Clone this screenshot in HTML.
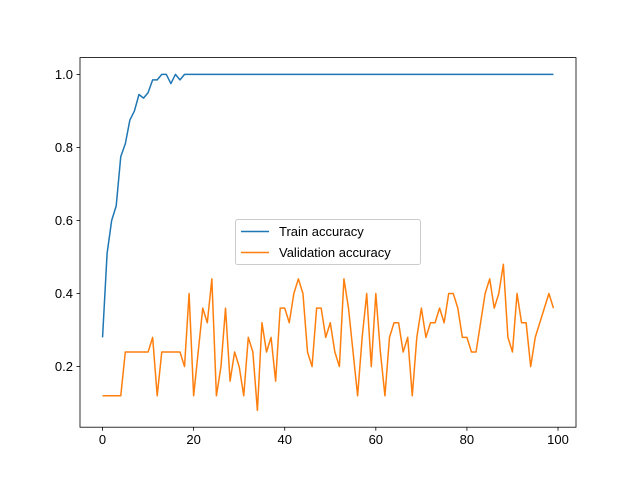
<!DOCTYPE html>
<html><head><meta charset="utf-8"><style>
html,body{margin:0;padding:0;background:#fff;}
svg text{font-family:"Liberation Sans","DejaVu Sans",sans-serif;font-size:13px;fill:#000;}
</style></head><body>
<svg id="chart" width="640" height="480" xmlns="http://www.w3.org/2000/svg">
<rect width="640" height="480" fill="#fff"/>
<g id="plot"></g>
</svg>
<script>
const xTicks=[0,20,40,60,80,100];
const yTicks=[0.2,0.4,0.6,0.8,1.0];
const yTickLabels=["0.2","0.4","0.6","0.8","1.0"];
const trainHead=[0.28,0.51,0.6,0.64,0.775,0.81,0.875,0.9,0.945,0.935,0.95,0.985,0.985,1.0,1.0,0.975,1.0,0.985];
const trainTail=Array(82).fill(1.0);
const trainAcc=trainHead.concat(trainTail);
const valAcc=[0.12,0.12,0.12,0.12,0.12,0.24,0.24,0.24,0.24,0.24,0.24,0.28,0.12,0.24,0.24,0.24,0.24,0.24,0.2,0.4,
0.12,0.24,0.36,0.32,0.44,0.12,0.2,0.36,0.16,0.24,0.2,0.12,0.28,0.24,0.08,0.32,0.24,0.28,0.16,0.36,
0.36,0.32,0.4,0.44,0.4,0.24,0.2,0.36,0.36,0.28,0.32,0.24,0.2,0.44,0.36,0.24,0.12,0.28,0.4,0.2,
0.4,0.24,0.12,0.28,0.32,0.32,0.24,0.28,0.12,0.28,0.36,0.28,0.32,0.32,0.36,0.32,0.4,0.4,0.36,0.28,
0.28,0.24,0.24,0.32,0.4,0.44,0.36,0.4,0.48,0.28,0.24,0.4,0.32,0.32,0.2,0.28,0.32,0.36,0.4,0.36];
const L=80,R=576,T=57.6,B=427.2;
const xmin=-4.95,xmax=103.95,ymin=0.034,ymax=1.046;
const sx=v=>L+(v-xmin)/(xmax-xmin)*(R-L);
const sy=v=>B-(v-ymin)/(ymax-ymin)*(B-T);
const NS="http://www.w3.org/2000/svg";
const g=document.getElementById('plot');
function mk(tag,attrs,parent){const e=document.createElementNS(NS,tag);for(const k in attrs)e.setAttribute(k,attrs[k]);(parent||g).appendChild(e);return e;}
function line(arr,color,name){
  const d=arr.map((v,i)=>(i?'L':'M')+sx(i).toFixed(2)+' '+sy(v).toFixed(2)).join(' ');
  const p=mk('path',{d:d,fill:'none',stroke:color,'stroke-width':1.5,'stroke-linejoin':'round'});
  
  
}
line(trainAcc,'#1f77b4','train-accuracy-line');
line(valAcc,'#ff7f0e','validation-accuracy-line');
const frame=mk('rect',{x:L,y:T,width:R-L,height:B-T,fill:'none',stroke:'#000','stroke-width':0.8});


xTicks.forEach(t=>{
  const x=sx(t);
  mk('line',{x1:x,x2:x,y1:B,y2:B+3.5,stroke:'#000','stroke-width':0.8});
  const tx=mk('text',{x:x,y:B+17,'text-anchor':'middle'});tx.textContent=String(t);
  
  
});
yTicks.forEach((t,i)=>{
  const y=sy(t);
  mk('line',{x1:L-3.5,x2:L,y1:y,y2:y,stroke:'#000','stroke-width':0.8});
  const tx=mk('text',{x:L-7,y:y+4.5,'text-anchor':'end'});tx.textContent=yTickLabels[i];
  
  
});
const lg=mk('g',{});


mk('rect',{x:235.5,y:219.5,width:185,height:45,rx:2,fill:'#fff','fill-opacity':0.8,stroke:'#ccc'},lg);
mk('line',{x1:241,x2:269,y1:231.5,y2:231.5,stroke:'#1f77b4','stroke-width':1.5},lg);
mk('line',{x1:241,x2:269,y1:252.5,y2:252.5,stroke:'#ff7f0e','stroke-width':1.5},lg);
const t1=mk('text',{x:279,y:236},lg);t1.textContent='Train accuracy';


const t2=mk('text',{x:279,y:257},lg);t2.textContent='Validation accuracy';


</script>
</body></html>
